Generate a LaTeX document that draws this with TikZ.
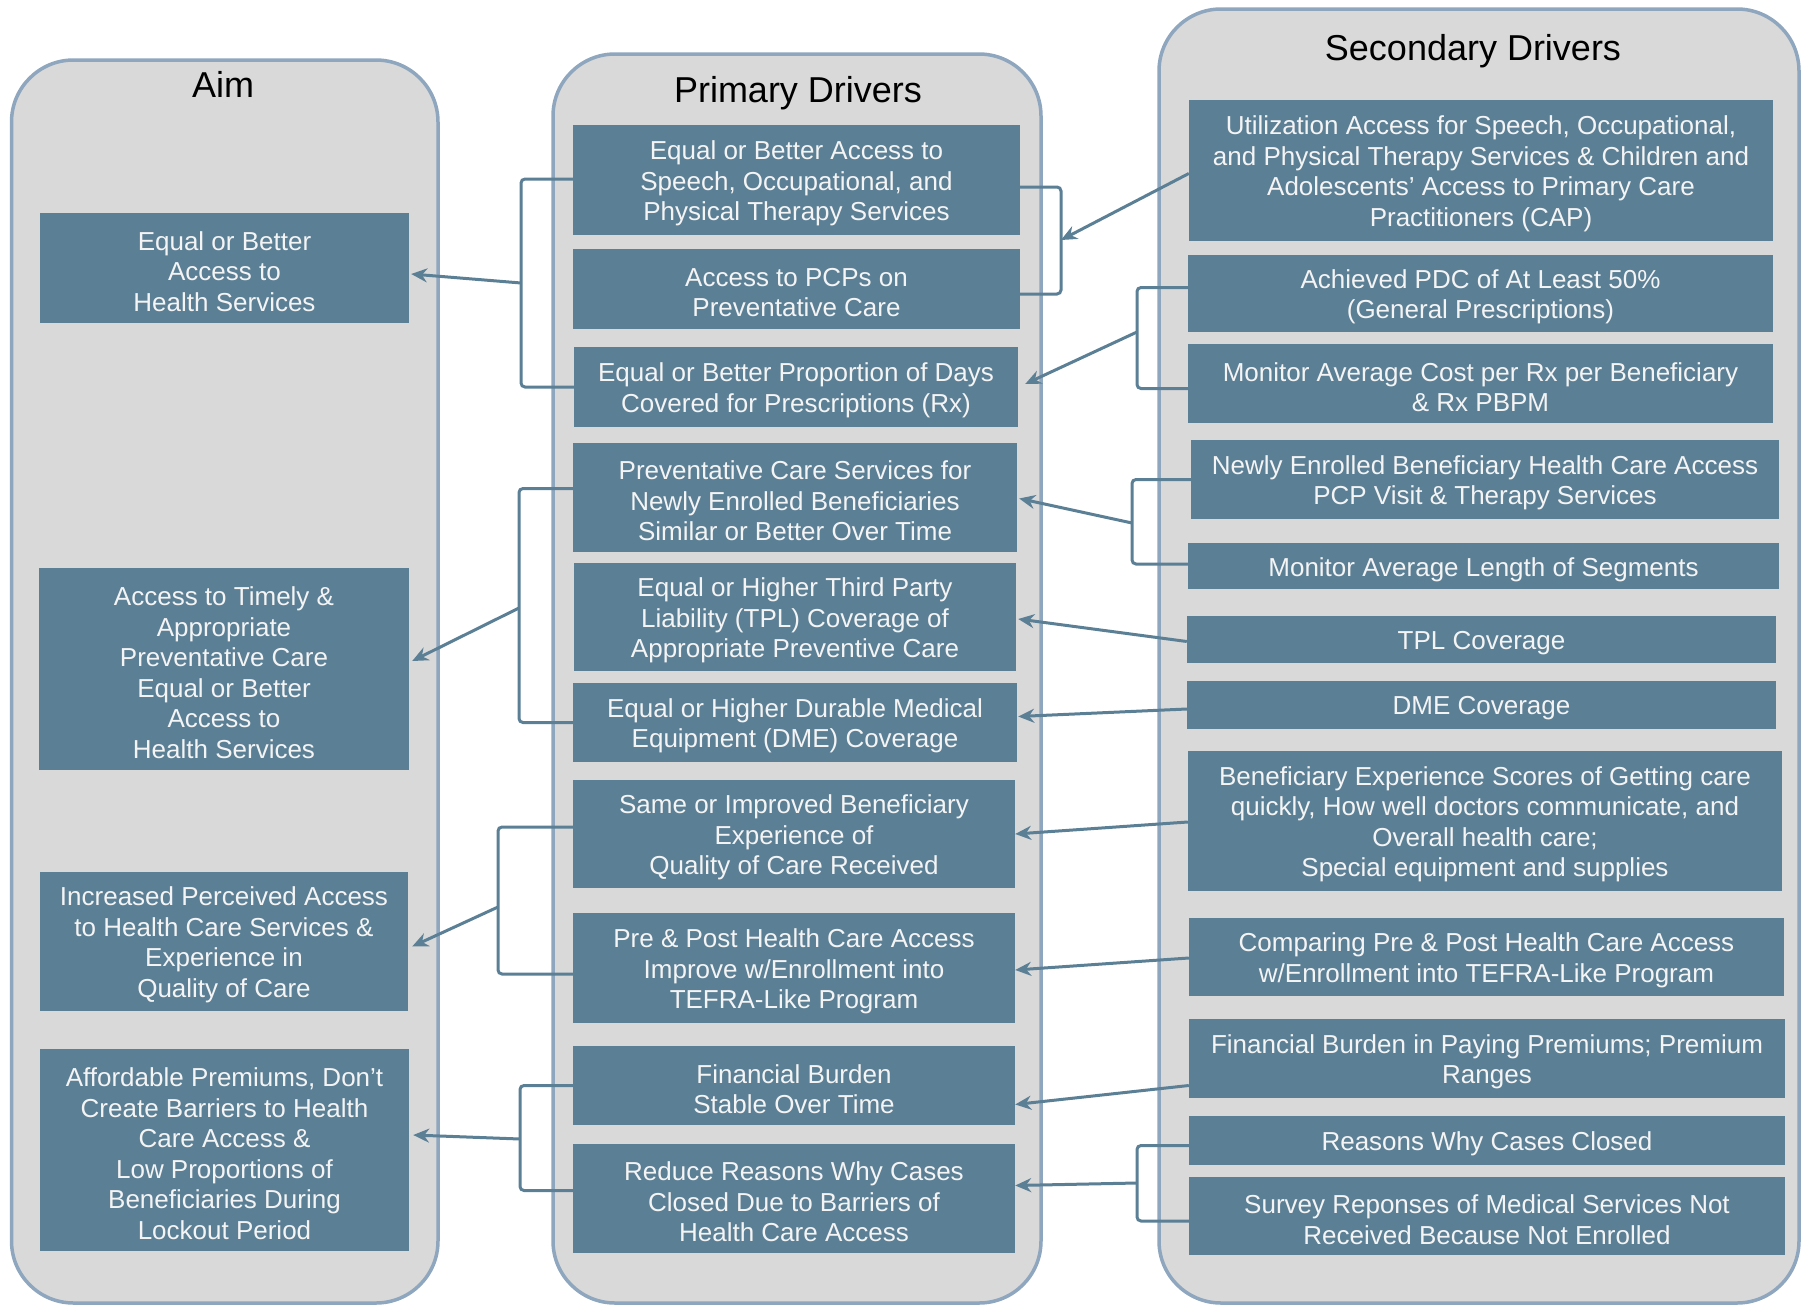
\documentclass[tikz,border=0pt]{standalone}
\usepackage{fontspec}
\setmainfont{Liberation Sans}
\usetikzlibrary{arrows.meta,calc}
\definecolor{boxblue}{HTML}{5B7F95}
\definecolor{panel}{HTML}{D9D9D9}
\definecolor{panelline}{HTML}{8FA6BF}
\definecolor{boxtext}{HTML}{F4F4F4}
\tikzset{
 panelbox/.style={draw=panelline, fill=panel, line width=3.5pt, rounded corners=62pt},
 dbox/.style={fill=boxblue, inner sep=0pt},
 dtext/.style={text=boxtext, align=center, inner sep=0pt, font=\fontsize{26}{30.5}\selectfont},
 coltitle/.style={font=\fontsize{36}{40}\selectfont, text=black, inner sep=0pt},
 conn/.style={draw=boxblue, line width=3pt, rounded corners=4pt},
 arr/.style={draw=boxblue, line width=3pt, -{Stealth[length=16pt,width=14pt]}},
}
\newcommand\bx[6]{\node[dbox, minimum width={(#4-#2)*1pt}, minimum height={(#5-#3)*1pt}] (#1) at ({(#2+#4)/2},{(#3+#5)/2}) {};
\node[dtext] (#1t) at ($(#1.center)+(0,3.5)$) {#6};}
\begin{document}
\begin{tikzpicture}[x=1pt,y=-1pt]
\useasboundingbox (0,0) rectangle (1808,1309);
% panels
\draw[panelbox] (11.5,60) rectangle (438,1303);
\draw[panelbox] (553,54) rectangle (1041,1303);
\draw[panelbox] (1159,9) rectangle (1799,1303);
\node[coltitle] (taim) at (223,84) {Aim};
\node[coltitle] (tprim) at (798,93.5) {Primary Drivers};
\node[coltitle] (tsec) at (1473,51.5) {Secondary Drivers};
% aim boxes
\bx{A1}{40}{213}{409}{323}{Equal or Better\\Access to\\Health Services}
\bx{A2}{39}{568}{409}{770}{Access to Timely \&\\Appropriate\\Preventative Care\\Equal or Better\\Access to\\Health Services}
\bx{A3}{40}{872}{408}{1011}{Increased Perceived Access\\to Health Care Services \&\\Experience in\\Quality of Care}
\bx{A4}{40}{1049}{409}{1251}{Affordable Premiums, Don’t\\Create Barriers to Health\\Care Access \&\\Low Proportions of\\Beneficiaries During\\Lockout Period}
% primary boxes
\bx{P1}{573}{125}{1020}{235}{Equal or Better Access to\\Speech, Occupational, and\\Physical Therapy Services}
\bx{P2}{573}{249}{1020}{329}{Access to PCPs on\\Preventative Care}
\bx{P3}{574}{347}{1018}{427}{Equal or Better Proportion of Days\\Covered for Prescriptions (Rx)}
\bx{P4}{573}{443}{1017}{552}{Preventative Care Services for\\Newly Enrolled Beneficiaries\\Similar or Better Over Time}
\bx{P5}{574}{563}{1016}{671}{Equal or Higher Third Party\\Liability (TPL) Coverage of\\Appropriate Preventive Care}
\bx{P6}{573}{683}{1017}{762}{Equal or Higher Durable Medical\\Equipment (DME) Coverage}
\bx{P7}{573}{780}{1015}{888}{Same or Improved Beneficiary\\Experience of\\Quality of Care Received}
\bx{P8}{573}{913}{1015}{1023}{Pre \& Post Health Care Access\\Improve w/Enrollment into\\TEFRA-Like Program}
\bx{P9}{573}{1046}{1015}{1125}{Financial Burden\\Stable Over Time}
\bx{P10}{573}{1144}{1015}{1253}{Reduce Reasons Why Cases\\Closed Due to Barriers of\\Health Care Access}
% secondary boxes
\bx{S1}{1189}{100}{1773}{241}{Utilization Access for Speech, Occupational,\\and Physical Therapy Services \& Children and\\Adolescents’ Access to Primary Care\\Practitioners (CAP)}
\bx{S2}{1188}{255}{1773}{332}{Achieved PDC of At Least 50\%\\(General Prescriptions)}
\bx{S3}{1188}{344}{1773}{423}{Monitor Average Cost per Rx per Beneficiary\\\& Rx PBPM}
\bx{S4}{1191}{440}{1779}{519}{Newly Enrolled Beneficiary Health Care Access\\PCP Visit \& Therapy Services}
\bx{S5}{1188}{543}{1779}{589}{Monitor Average Length of Segments}
\bx{S6}{1187}{616}{1776}{663}{TPL Coverage}
\bx{S7}{1187}{681}{1776}{729}{DME Coverage}
\bx{S8}{1188}{751}{1782}{891}{Beneficiary Experience Scores of Getting care\\quickly, How well doctors communicate, and\\Overall health care;\\Special equipment and supplies}
\bx{S9}{1189}{918}{1784}{996}{Comparing Pre \& Post Health Care Access\\w/Enrollment into TEFRA-Like Program}
\bx{S10}{1189}{1019}{1785}{1098}{Financial Burden in Paying Premiums; Premium\\Ranges}
\bx{S11}{1189}{1116}{1785}{1165}{Reasons Why Cases Closed}
\bx{S12}{1189}{1177}{1785}{1255}{Survey Reponses of Medical Services Not\\Received Because Not Enrolled}
% left brackets
\coordinate (L1) at (521,283);
\draw[conn] ($(P1.west)+(0,-1)$) -| (L1) |- (P3.west);
\draw[arr] (L1) -- ($(A1.east)+(2,6)$);
\coordinate (L2) at (519,608);
\draw[conn] ($(P4.west)+(0,-9)$) -| (L2) |- (P6.west);
\draw[arr] (L2) -- ($(A2.east)+(3,-8)$);
\coordinate (L3) at (498,907);
\draw[conn] ($(P7.west)+(0,-7)$) -| (L3) |- ($(P8.west)+(0,6)$);
\draw[arr] (L3) -- ($(A3.east)+(4,5)$);
\coordinate (L4) at (520,1139);
\draw[conn] (P9.west) -| (L4) |- ($(P10.west)+(0,-8)$);
\draw[arr] (L4) -- ($(A4.east)+(4,-15)$);
% right side
\coordinate (R1) at (1061,240);
\draw[conn] ($(P1.east)+(0,7)$) -| (R1) |- ($(P2.east)+(0,5)$);
\draw[arr] ($(S1.west)+(0,3)$) -- (R1);
\coordinate (R2) at (1137,332);
\draw[conn] ($(S2.west)+(0,-6)$) -| (R2) |- ($(S3.west)+(0,5)$);
\draw[arr] (R2) -- ($(P3.east)+(7,-3)$);
\coordinate (R3) at (1132,523);
\draw[conn] (S4.west) -| (R3) |- ($(S5.west)+(0,-2)$);
\draw[arr] (R3) -- ($(P4.east)+(2,1)$);
\draw[arr] ($(S6.west)+(0,2)$) -- ($(P5.east)+(2,2)$);
\draw[arr] ($(S7.west)+(0,4)$) -- ($(P6.east)+(1,-6)$);
\draw[arr] ($(S8.west)+(0,1)$) -- (P7.east);
\draw[arr] ($(S9.west)+(0,1)$) -- ($(P8.east)+(0,2)$);
\draw[arr] ($(S10.west)+(0,27)$) -- ($(P9.east)+(0,19)$);
\coordinate (R4) at (1137,1183);
\draw[conn] ($(S11.west)+(0,5)$) -| (R4) |- ($(S12.west)+(0,5)$);
\draw[arr] (R4) -- ($(P10.east)+(0,-13)$);
\end{tikzpicture}
\end{document}
